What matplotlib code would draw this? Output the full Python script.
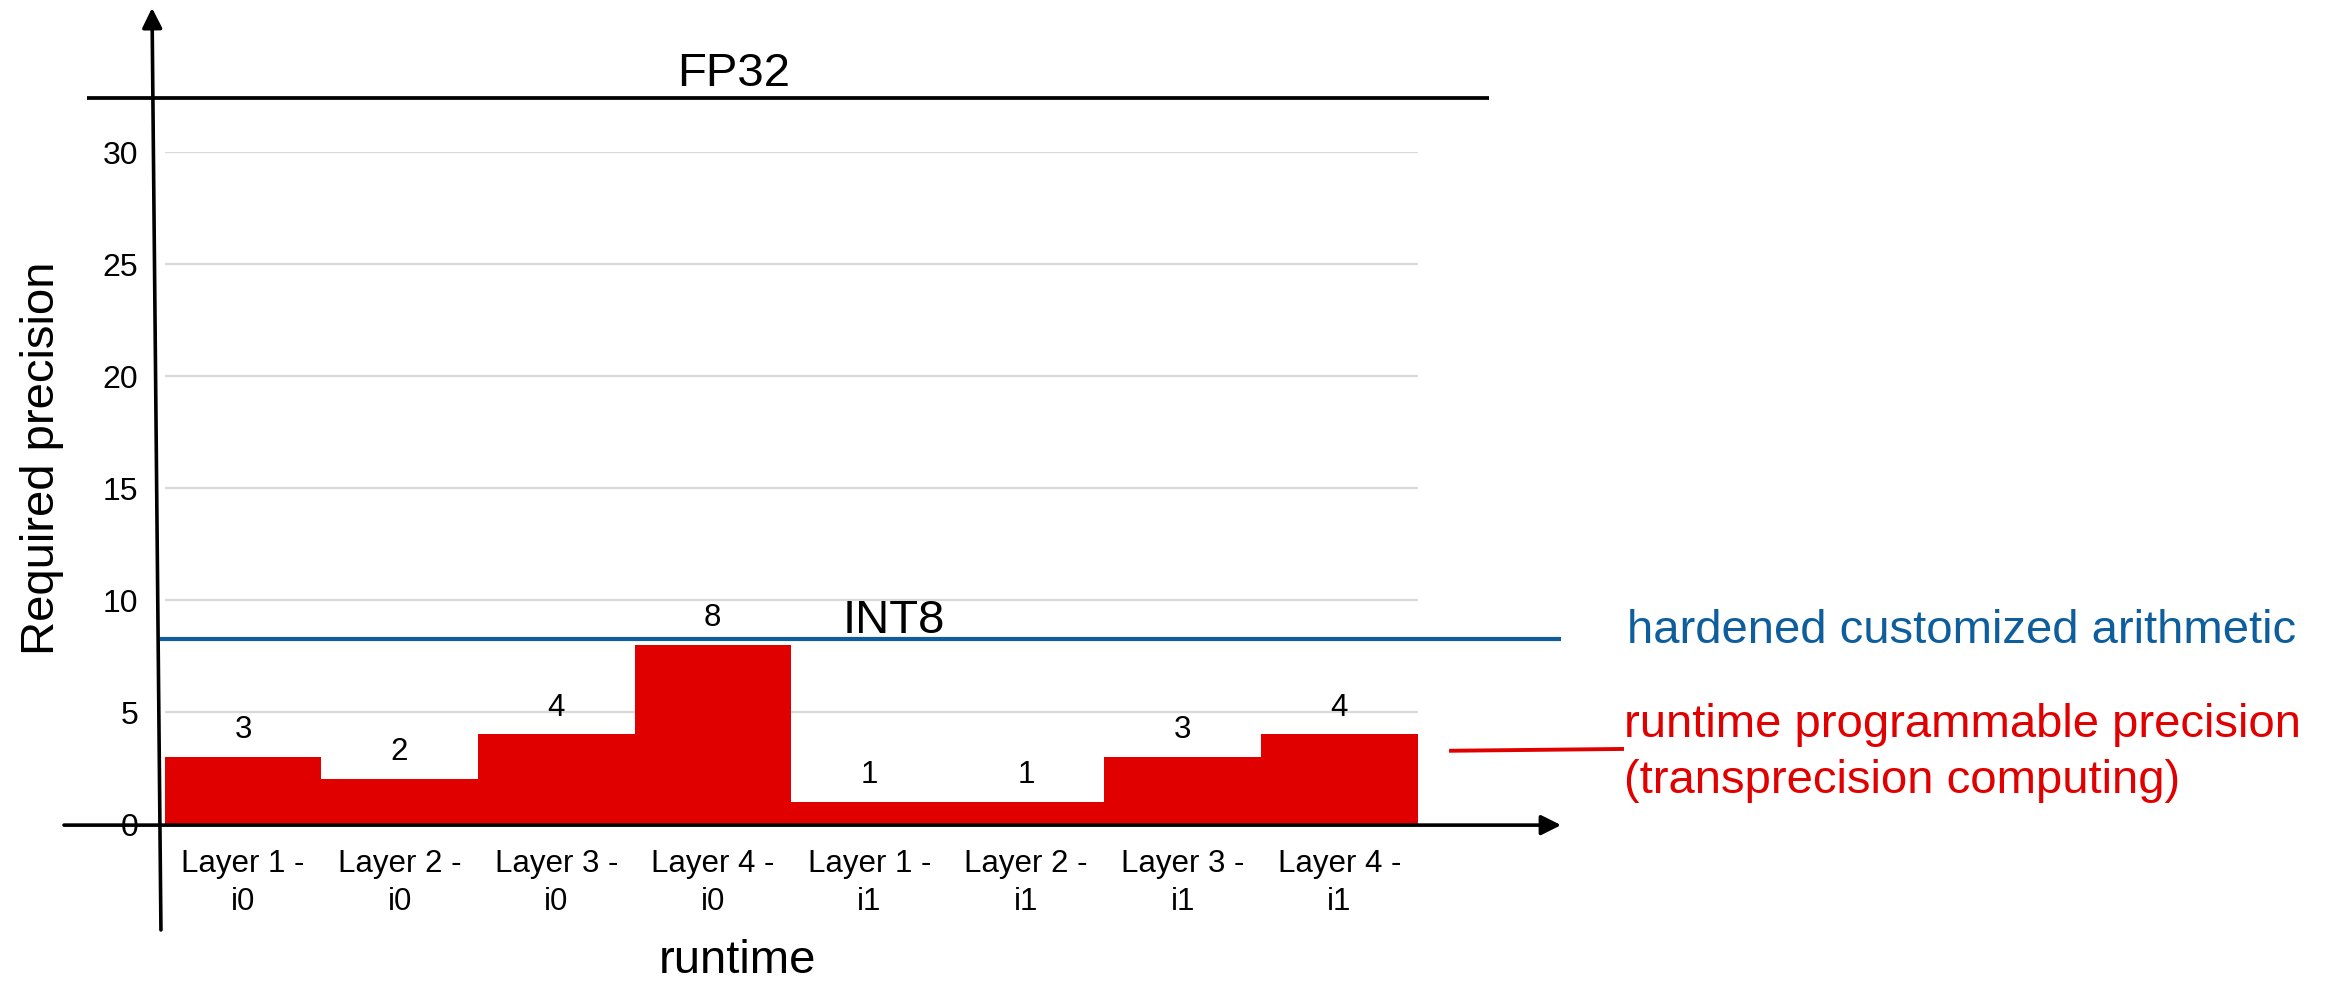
import matplotlib
matplotlib.use("Agg")
import matplotlib.pyplot as plt
from matplotlib import font_manager

# ---- data ----
categories = ["Layer 1 -\ni0", "Layer 2 -\ni0", "Layer 3 -\ni0", "Layer 4 -\ni0",
              "Layer 1 -\ni1", "Layer 2 -\ni1", "Layer 3 -\ni1", "Layer 4 -\ni1"]
precision = [3, 2, 4, 8, 1, 1, 3, 4]
yticks = [0, 5, 10, 15, 20, 25, 30]
fp32_level = 32.4      # as drawn in the picture
int8_level = 8.25      # as drawn in the picture
fp32_label = "FP32"
int8_label = "INT8"
blue_note = "hardened customized arithmetic"
red_note = ["runtime programmable precision", "(transprecision computing)"]
xlabel = "runtime"
ylabel = "Required precision"

RED = "#E00000"
BLUE = "#0E5E9E"
GRID = "#D9D9D9"

fam = "Liberation Sans"
try:
    font_manager.findfont(fam, fallback_to_default=False)
except Exception:
    fam = "DejaVu Sans"
plt.rcParams["font.family"] = [fam, "DejaVu Sans"]

W, H = 2339, 986
fig = plt.figure(figsize=(W / 100, H / 100), dpi=100)

def fx(px):
    return px / W

def fy(py):
    return 1 - py / H

ax_left, ax_right = 164.7, 1417.5
ax_bot, ax_top = 824.0, 152.0
ax = fig.add_axes([fx(ax_left), fy(ax_bot), fx(ax_right - ax_left), (ax_bot - ax_top) / H])
ax.patch.set_alpha(0)
for s in ax.spines.values():
    s.set_visible(False)

n = len(categories)
x = list(range(n))
ax.set_xlim(-0.5, n - 0.5)
ax.set_ylim(0, 30)
ax.set_axisbelow(True)
ax.yaxis.grid(True, color=GRID, linewidth=1.6)
ax.set_yticks(yticks)
ax.set_yticklabels([str(v) for v in yticks], fontsize=23)
ax.set_xticks(x)
ax.set_xticklabels(categories, fontsize=22.5, linespacing=1.33)
ax.tick_params(axis="both", length=0)
ax.tick_params(axis="y", pad=19)
ax.tick_params(axis="x", pad=18)

ax.bar(x, precision, width=1.0, color=RED, edgecolor="none", zorder=2)
for xi, v in zip(x, precision):
    ax.annotate(str(v), xy=(xi, v), xytext=(0, 13.5), textcoords="offset points",
                ha="center", va="baseline", fontsize=22.5, color="black")

# reference lines
ax.plot([-0.996, 7.957], [fp32_level, fp32_level], color="black", lw=2.7,
        clip_on=False, zorder=4, solid_capstyle="butt")
ax.plot([-0.53, 8.417], [int8_level, int8_level], color=BLUE, lw=3.0,
        clip_on=False, zorder=4, solid_capstyle="butt")

# axes arrows
arrow = dict(arrowstyle="-|>,head_length=0.6,head_width=0.3", lw=2.6, color="black",
             mutation_scale=20, shrinkA=0, shrinkB=0)
ax.annotate("", xy=(8.417, -0.05), xytext=(-1.143, -0.05), arrowprops=arrow,
            annotation_clip=False, zorder=5)
ax.annotate("", xy=(-0.581, 36.43), xytext=(-0.524, -4.73), arrowprops=arrow,
            annotation_clip=False, zorder=5)

# red connector
ax.plot([7.714, 8.806], [3.27, 3.35], color=RED, lw=2.8, clip_on=False, zorder=4)

# texts
fig.text(fx(734), fy(86), fp32_label, ha="center", va="baseline", fontsize=34)
fig.text(fx(894), fy(633), int8_label, ha="center", va="baseline", fontsize=34)
fig.text(fx(1627), fy(643), blue_note, ha="left", va="baseline", fontsize=34, color=BLUE)
fig.text(fx(1624), fy(737), red_note[0], ha="left", va="baseline", fontsize=34, color=RED)
fig.text(fx(1624), fy(793), red_note[1], ha="left", va="baseline", fontsize=34, color=RED)
fig.text(fx(737), fy(973), xlabel, ha="center", va="baseline", fontsize=34)
fig.text(fx(42), fy(458), ylabel, ha="center", va="center", rotation=90, fontsize=34)

fig.savefig("out.png", dpi=100)
